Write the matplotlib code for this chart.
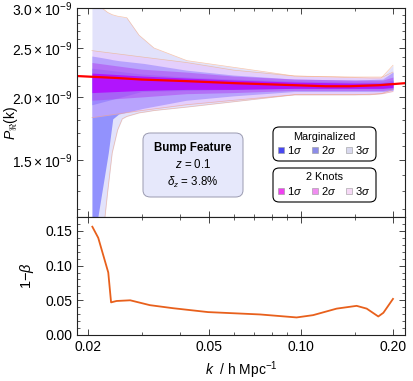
import numpy as np
import matplotlib
matplotlib.use("Agg")
import matplotlib.pyplot as plt
from matplotlib.patches import FancyBboxPatch, Rectangle
from matplotlib.ticker import FixedLocator, NullFormatter

plt.rcParams['font.family'] = ['Liberation Sans', 'DejaVu Sans']
plt.rcParams['mathtext.fontset'] = 'custom'
plt.rcParams['mathtext.rm'] = 'Liberation Sans'
plt.rcParams['mathtext.it'] = 'Liberation Sans:italic'
plt.rcParams['mathtext.bf'] = 'Liberation Sans:bold'

# ---- data (P in units of 1e-9) ----
k_red = [0.0184, 0.025, 0.03, 0.0416, 0.06, 0.0952, 0.12, 0.144, 0.18, 0.22]
P_red = [2.20, 2.18, 2.165, 2.15, 2.13, 2.11, 2.10, 2.10, 2.11, 2.13]

k_band = [0.0206, 0.03, 0.042, 0.06, 0.095, 0.15, 0.185, 0.2]
knots3_hi = [2.47, 2.40, 2.34, 2.26, 2.20, 2.19, 2.19, 2.24]
knots3_lo = [1.82, 1.88, 1.93, 1.97, 2.02, 2.02, 2.03, 2.05]
knots2_hi = [2.34, 2.27, 2.24, 2.20, 2.17, 2.16, 2.16, 2.19]
knots2_lo = [1.97, 2.00, 2.03, 2.04, 2.06, 2.06, 2.06, 2.07]
knots1_hi = [2.23, 2.20, 2.18, 2.16, 2.14, 2.13, 2.13, 2.14]
knots1_lo = [2.04, 2.06, 2.07, 2.07, 2.08, 2.08, 2.08, 2.09]
marg1_hi = [2.28, 2.22, 2.19, 2.17, 2.15, 2.14, 2.14, 2.16]
marg1_lo = [1.93, 2.05, 2.06, 2.07, 2.08, 2.08, 2.08, 2.08]

k_m2 = [0.0206, 0.0215, 0.0233, 0.0241, 0.0252, 0.0305, 0.042, 0.06, 0.095, 0.15, 0.185, 0.2]
marg2_hi = [2.41, 2.40, 2.38, 2.37, 2.36, 2.33, 2.26, 2.21, 2.17, 2.16, 2.17, 2.24]
marg2_lo = [1.0, 1.15, 1.55, 1.81, 1.85, 1.90, 1.97, 2.01, 2.05, 2.05, 2.05, 2.06]

k_m3 = [0.0206, 0.0222, 0.0227, 0.0232, 0.024, 0.025, 0.0259, 0.0268, 0.0294,
        0.0312, 0.0329, 0.0422, 0.0952, 0.168, 0.183, 0.2]
marg3_hi = [3.3, 3.0, 2.97, 2.94, 2.91, 2.89, 2.88, 2.87, 2.65, 2.57, 2.50, 2.36,
            2.20, 2.18, 2.18, 2.31]
marg3_lo = [1.0, 1.0, 1.15, 1.3, 1.55, 1.72, 1.81, 1.83, 1.86, 1.87, 1.88, 1.91,
            2.02, 2.02, 2.03, 2.07]

k_beta = [0.02066, 0.0216, 0.0233, 0.0238, 0.0248, 0.0275, 0.0319, 0.038, 0.0495,
          0.0733, 0.0966, 0.1094, 0.1307, 0.152, 0.164, 0.179, 0.186, 0.2]
one_minus_beta = [0.156, 0.140, 0.090, 0.047, 0.049, 0.050, 0.043, 0.0386, 0.033,
                  0.0296, 0.0253, 0.0286, 0.038, 0.042, 0.038, 0.0267, 0.032, 0.052]

xticks = [0.02, 0.05, 0.10, 0.20]
xtick_labels = ["0.02", "0.05", "0.10", "0.20"]
xminor = [0.03, 0.04, 0.06, 0.07, 0.08, 0.09, 0.15]
yticks_top = [1.5e-9, 2.0e-9, 2.5e-9, 3.0e-9]
ytick_labels_top = [r"$1.5\times10^{-9}$", r"$2.0\times10^{-9}$",
                    r"$2.5\times10^{-9}$", r"$3.0\times10^{-9}$"]

e9 = 1e-9
W, H = 413, 381
fig = plt.figure(figsize=(W / 100, H / 100), dpi=100)

def fx(px):
    return px / W

def fy(py):
    return 1 - py / H

ax1 = fig.add_axes([fx(77), fy(217), fx(405) - fx(77), fy(8) - fy(217)])
ax2 = fig.add_axes([fx(77), fy(335), fx(405) - fx(77), fy(217) - fy(335)], sharex=ax1)

# bands
edge = '#f0a078'
ax1.fill_between(k_m3, np.array(marg3_lo) * e9, np.array(marg3_hi) * e9,
                 color='#e2e2fb', lw=0)
ax1.fill_between(k_m2, np.array(marg2_lo) * e9, np.array(marg2_hi) * e9,
                 color='#5050ff', alpha=0.55, lw=0)
ax1.fill_between(k_band, np.array(marg1_lo) * e9, np.array(marg1_hi) * e9,
                 color='#3030ff', alpha=0.5, lw=0)
ax1.fill_between(k_band, np.array(knots3_lo) * e9, np.array(knots3_hi) * e9,
                 color='#e8b8ff', alpha=0.45, lw=0)
ax1.fill_between(k_band, np.array(knots2_lo) * e9, np.array(knots2_hi) * e9,
                 color='#b040f0', alpha=0.5, lw=0)
ax1.fill_between(k_band, np.array(knots1_lo) * e9, np.array(knots1_hi) * e9,
                 color='#b400ff', alpha=0.8, lw=0)
for k, arr in [(k_m3, marg3_hi), (k_m3, marg3_lo), (k_band, knots3_hi), (k_band, knots3_lo)]:
    ax1.plot(k, np.array(arr) * e9, color=edge, lw=0.5, alpha=0.6)
ax1.plot(k_red, np.array(P_red) * e9, color='red', lw=1.6)

ax1.set_xscale('log')
ax1.set_yscale('log')
ax1.set_xlim(0.0184, 0.219)
ax1.set_ylim(1.157e-9, 3.0e-9)
ax1.yaxis.set_major_locator(FixedLocator(yticks_top))
ax1.set_yticklabels(ytick_labels_top)
ax1.yaxis.set_minor_locator(FixedLocator([v * 0.1e-9 for v in range(12, 30) if v % 5]))
ax1.yaxis.set_minor_formatter(NullFormatter())
ax1.set_ylabel(r"$P_{\Re}$(k)", fontsize=10)
ax1.yaxis.set_label_coords(-0.175, 0.45)

ax2.plot(k_beta, one_minus_beta, color='#e8601c', lw=1.3)
ax2.set_ylim(0, 0.17)
ax2.set_yticks([0, 0.05, 0.10, 0.15])
ax2.set_yticklabels(["0.00", "0.05", "0.10", "0.15"])
ax2.yaxis.set_minor_locator(FixedLocator([i * 0.01 for i in range(17) if i % 5]))
ax2.set_ylabel(r"1$-\beta$", fontsize=10.5)
ax2.yaxis.set_label_coords(-0.125, 0.5)
ax2.set_xlabel(r"$k$  / h Mpc$^{-1}$", fontsize=10)

for ax in (ax1, ax2):
    ax.set_xticks(xticks)
    ax.xaxis.set_minor_locator(FixedLocator(xminor))
    ax.xaxis.set_minor_formatter(NullFormatter())
    ax.tick_params(which='both', direction='in', top=True, right=True,
                   labelsize=10, color='#444444')
    ax.tick_params(which='major', length=4.5, width=0.7)
    ax.tick_params(which='minor', length=2.5, width=0.6)
    for s in ax.spines.values():
        s.set_linewidth(0.8)
        s.set_color('#222222')
ax2.set_xticklabels(xtick_labels)
ax1.tick_params(axis='x', which='both', labelbottom=False)

# Bump feature box
fig.patches.append(FancyBboxPatch((fx(143), fy(197)), fx(243) - fx(143), fy(133) - fy(197),
                                  boxstyle="round,pad=0,rounding_size=0.018",
                                  transform=fig.transFigure, facecolor='#e6e8fb',
                                  edgecolor='#9a9ab0', lw=0.7))
fig.text(fx(193), fy(148), "Bump Feature", ha='center', va='center', fontsize=8.3,
         fontweight='bold')
fig.text(fx(193), fy(164), r"$z$ = 0.1", ha='center', va='center', fontsize=8.3)
fig.text(fx(193), fy(182), r"$\delta_z$ = 3.8%", ha='center', va='center', fontsize=8.3)

# legends
leg_titles = ["Marginalized", "2 Knots"]
leg_colors = [['#4848f0', '#8c8ce8', '#d8d8ee'], ['#f040f0', '#f08cf0', '#f6d8f6']]
leg_tops = [127, 168]
for title, cols, top in zip(leg_titles, leg_colors, leg_tops):
    fig.patches.append(FancyBboxPatch((fx(273), fy(top + 34)), fx(376) - fx(273),
                                      fy(top) - fy(top + 34),
                                      boxstyle="round,pad=0,rounding_size=0.015",
                                      transform=fig.transFigure, facecolor='white',
                                      edgecolor='black', lw=0.8))
    fig.text(fx(324), fy(top + 9.5), title, ha='center', va='center', fontsize=7.8)
    for i, (sx, c) in enumerate(zip([281, 315, 349], cols)):
        fig.patches.append(Rectangle((fx(sx - 3), fy(top + 26)), fx(6), fy(0) - fy(6),
                                     transform=fig.transFigure, facecolor=c,
                                     edgecolor='#999999', lw=0.4))
        fig.text(fx(sx + 6), fy(top + 23), "%d$\\sigma$" % (i + 1), ha='left',
                 va='center', fontsize=8)

fig.savefig("out.png", dpi=100)
